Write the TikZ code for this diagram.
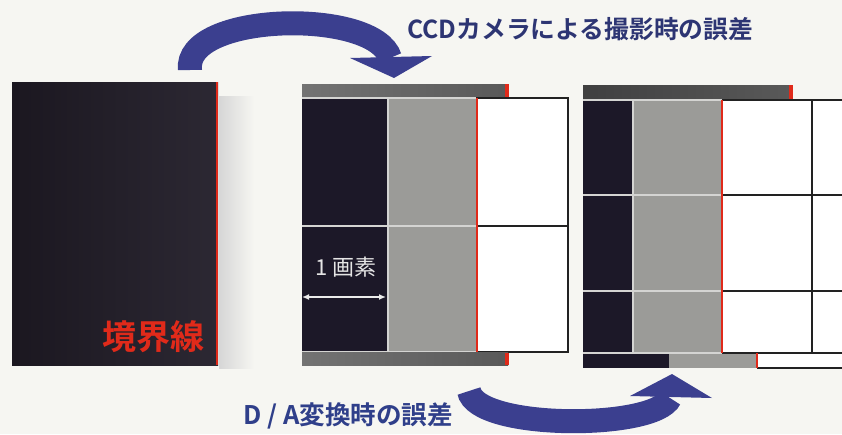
\documentclass[tikz,border=0pt]{standalone}
\usepackage{fontspec}
\newfontfamily\cjk{Noto Sans CJK JP}
\newfontfamily\cjkb{Noto Sans CJK JP Bold}
\usetikzlibrary{arrows.meta}
\definecolor{bg}{HTML}{F6F6F2}
\definecolor{dkA}{HTML}{1B1720}
\definecolor{dkB}{HTML}{2C2833}
\definecolor{cellDark}{HTML}{1C1828}
\definecolor{cellGray}{HTML}{9B9B98}
\definecolor{redc}{HTML}{E02A1A}
\definecolor{arrowc}{HTML}{3B3F8F}
\definecolor{txtTop}{HTML}{2D3573}
\definecolor{txtBot}{HTML}{2F3F8A}
\definecolor{sepc}{HTML}{D4D4D2}
\definecolor{gridc}{HTML}{222222}
\tikzset{
  redline/.style={draw=redc, line width=1.8pt},
  sepline/.style={draw=sepc, line width=1.1pt},
  gridline/.style={draw=gridc, line width=1.2pt},
  bigarrow/.style={draw=arrowc, line width=24pt},
  headtri/.style={fill=arrowc},
}
\begin{document}
\begin{tikzpicture}[x=1pt,y=-1pt]
\fill[bg] (0,0) rectangle (842,434);
\useasboundingbox (0,0) rectangle (842,434);

% ---- left panel ----
\shade[left color=black!16, right color=bg] (219,96) rectangle (254,368);
\shade[left color=dkA, right color=dkB] (12,82) rectangle (218,365);
\draw[redline] (217.3,82) -- (217.3,365);
\node[font=\cjkb\fontsize{34}{34}\selectfont, text=redc, anchor=east, inner sep=0pt] (kyokai) at (205,337) {境界線};

% ---- middle panel ----
\shade[left color=black!55, middle color=black!33, right color=black!65] (302,84) rectangle (508,98);
\fill[redc] (505,84) rectangle (508.5,98);
\fill[cellDark] (302,98) rectangle (388,352);
\fill[cellGray] (388,98) rectangle (477,352);
\draw[sepline] (302,98) -- (477,98);
\draw[sepline] (302,226) -- (477,226);
\draw[sepline] (388,98) -- (388,352);
\draw[sepline] (302,352) -- (477,352);
\fill[white] (477,98) rectangle (568,352);
\draw[gridline] (477,98) rectangle (568,352);
\draw[gridline] (477,226) -- (568,226);
\draw[redline] (477,98) -- (477,352);
\shade[left color=black!55, middle color=black!33, right color=black!65] (302,352.6) rectangle (508,365);
\fill[redc] (505,352.6) rectangle (508.5,365);

\node[font=\cjk\fontsize{22}{22}\selectfont, text=black!10, inner sep=0pt] (gaso) at (346,267) {1 画素};
\coordinate (pa) at (302,297);
\coordinate (pb) at (386,297);
\draw[black!8, line width=1.6pt, {Latex[length=7pt,width=6pt]}-{Latex[length=7pt,width=6pt]}] (pa) -- (pb);

% ---- right panel ----
\shade[left color=black!75, middle color=black!40, right color=black!65] (583,85) rectangle (792,100);
\fill[redc] (789,85) rectangle (792.5,100);
\fill[cellDark] (583,100) rectangle (633,353);
\fill[cellGray] (633,100) rectangle (722,353);
\draw[sepline] (583,100) -- (722,100);
\draw[sepline] (583,195) -- (722,195);
\draw[sepline] (583,291) -- (722,291);
\draw[sepline] (633,100) -- (633,353);
\draw[sepline] (583,353) -- (722,353);
\fill[white] (722,100) rectangle (842,353);
\draw[gridline] (722,100) -- (842,100);
\draw[gridline] (722,195) -- (842,195);
\draw[gridline] (722,291) -- (842,291);
\draw[gridline] (722,353) -- (842,353);
\draw[gridline] (812,100) -- (812,353);
\draw[redline] (722,100) -- (722,353);
\fill[cellDark] (583,354) rectangle (669,368);
\fill[cellGray] (669,354) rectangle (757,368);
\fill[white] (757,354) rectangle (842,368);
\draw[gridline] (757,368) -- (842,368);
\draw[redline] (757,353) -- (757,368);

% ---- arrows ----
\coordinate (t1) at (190,70);
\coordinate (h1) at (390,58);
\draw[bigarrow] (t1) .. controls (183,12) and (375,8) .. (h1);
\fill[headtri] (350,58) -- (432,56) -- (394,78) -- cycle;
\node[font=\cjkb\fontsize{24.8}{25}\selectfont, text=txtTop, anchor=west, inner sep=0pt] (ccd) at (407,29) {CCDカメラによる撮影時の誤差};

\coordinate (t2) at (469,391);
\coordinate (h2) at (670,398);
\draw[bigarrow] (t2) .. controls (476,430) and (655,430) .. (h2);
\fill[headtri] (630,396) -- (712,398) -- (672,374) -- cycle;
\node[font=\cjkb\fontsize{25.6}{26}\selectfont, text=txtBot, anchor=west, inner sep=0pt] (da) at (243,416) {D / A変換時の誤差};
\end{tikzpicture}
\end{document}
